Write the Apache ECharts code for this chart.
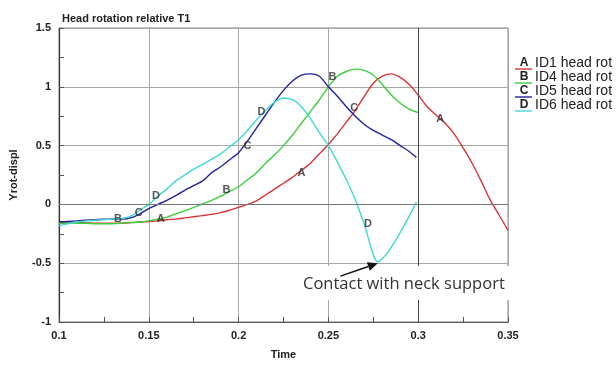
<!DOCTYPE html>
<html><head><meta charset="utf-8">
<script src="https://cdn.jsdelivr.net/npm/echarts@6/dist/echarts.min.js"></script>
<style>html,body{margin:0;padding:0;background:#fff}#c{width:616px;height:365px}</style>
</head><body><div id="c"></div>
<script>
// ---- data ----
const seriesNames = ['ID1 head rot', 'ID4 head rot', 'ID5 head rot', 'ID6 head rot'];
const seriesLetters = ['A', 'B', 'C', 'D'];
const xTicks = [0.1, 0.15, 0.2, 0.25, 0.3, 0.35];
const yTicks = [-1, -0.5, 0, 0.5, 1, 1.5];

const timeID1 = [0.100,0.105,0.110,0.115,0.120,0.125,0.130,0.135,0.140,0.145,0.150,0.155,0.160,0.165,0.170,0.175,0.180,0.185,0.190,0.195,0.200,0.205,0.210,0.215,0.220,0.225,0.230,0.235,0.240,0.245,0.250,0.255,0.260,0.265,0.270,0.275,0.280,0.285,0.290,0.295,0.300,0.305,0.310,0.315,0.320,0.325,0.330,0.335,0.340,0.345,0.350];
const valID1  = [-0.15,-0.15,-0.155,-0.155,-0.16,-0.16,-0.16,-0.16,-0.155,-0.15,-0.145,-0.14,-0.13,-0.125,-0.115,-0.105,-0.095,-0.085,-0.07,-0.05,-0.025,0.0,0.03,0.08,0.13,0.18,0.23,0.29,0.35,0.43,0.51,0.6,0.7,0.8,0.92,1.03,1.09,1.11,1.08,1.02,0.93,0.83,0.76,0.69,0.6,0.48,0.35,0.2,0.04,-0.09,-0.22];

const timeID4 = [0.100,0.105,0.110,0.115,0.120,0.125,0.130,0.135,0.140,0.145,0.150,0.155,0.160,0.165,0.170,0.175,0.180,0.185,0.190,0.195,0.200,0.205,0.210,0.215,0.220,0.225,0.230,0.235,0.240,0.245,0.250,0.255,0.260,0.265,0.270,0.275,0.280,0.285,0.290,0.295,0.300];
const valID4  = [-0.16,-0.16,-0.16,-0.16,-0.165,-0.165,-0.165,-0.16,-0.155,-0.15,-0.14,-0.125,-0.11,-0.08,-0.055,-0.025,0.005,0.035,0.07,0.11,0.15,0.21,0.27,0.35,0.42,0.5,0.59,0.69,0.79,0.89,1.0,1.09,1.13,1.15,1.14,1.1,1.02,0.93,0.86,0.81,0.78];

const timeID5 = [0.100,0.105,0.110,0.115,0.120,0.125,0.130,0.135,0.140,0.145,0.150,0.155,0.160,0.165,0.170,0.175,0.180,0.185,0.190,0.195,0.200,0.205,0.210,0.215,0.220,0.225,0.230,0.235,0.240,0.245,0.250,0.255,0.260,0.265,0.270,0.275,0.280,0.285,0.290,0.295,0.299];
const valID5  = [-0.15,-0.145,-0.14,-0.135,-0.13,-0.125,-0.125,-0.125,-0.115,-0.08,-0.035,0.0,0.035,0.075,0.12,0.16,0.2,0.27,0.32,0.38,0.44,0.54,0.65,0.76,0.87,0.97,1.05,1.1,1.11,1.09,1.0,0.92,0.83,0.75,0.68,0.63,0.59,0.55,0.5,0.45,0.4];

const timeID6 = [0.100,0.105,0.110,0.115,0.120,0.125,0.130,0.135,0.140,0.145,0.150,0.155,0.160,0.165,0.170,0.175,0.180,0.185,0.190,0.195,0.200,0.205,0.210,0.215,0.220,0.225,0.230,0.235,0.240,0.245,0.250,0.255,0.260,0.265,0.270,0.2775,0.283,0.290,0.295,0.299];
const valID6  = [-0.18,-0.165,-0.15,-0.14,-0.135,-0.13,-0.125,-0.12,-0.1,-0.05,0.0,0.07,0.13,0.2,0.25,0.3,0.34,0.385,0.43,0.49,0.55,0.63,0.72,0.8,0.87,0.905,0.89,0.83,0.73,0.61,0.5,0.36,0.21,0.04,-0.17,-0.49,-0.41,-0.24,-0.1,0.02];

// letter markers [time, value]
const lettersID1 = [[0.1567,-0.12],[0.235,0.27],[0.3122,0.73]];
const lettersID4 = [[0.1328,-0.12],[0.1933,0.12],[0.2522,1.08]];
const lettersID5 = [[0.1444,-0.07],[0.205,0.5],[0.2644,0.82]];
const lettersID6 = [[0.154,0.07],[0.2128,0.79],[0.272,-0.17]];

const annotationText = 'Contact with neck support';
const annotationPoint = [0.2775, -0.5];
const annotationTail = [0.2567, -0.61];

// ---- chart ----
const colors = ['#d83434', '#3ccf3c', '#22229c', '#3fd9d6'];
const times = [timeID1, timeID4, timeID5, timeID6];
const vals = [valID1, valID4, valID5, valID6];
const letters = [lettersID1, lettersID4, lettersID5, lettersID6];
const zip = (t, v) => t.map((x, i) => [x, v[i]]);

const chart = echarts.init(document.getElementById('c'), null, {renderer: 'canvas'});
const series = [];
for (let i = 0; i < 4; i++) {
  series.push({
    name: seriesNames[i], type: 'line', data: zip(times[i], vals[i]),
    showSymbol: false, smooth: 0.25, z: 3,
    lineStyle: {color: colors[i], width: 1.4}, itemStyle: {color: colors[i]}
  });
}
for (let i = 0; i < 4; i++) {
  series.push({
    type: 'scatter', data: letters[i], symbolSize: 0, z: 5, silent: true,
    label: {show: true, position: 'inside', formatter: seriesLetters[i],
      color: '#2a2a2a', fontFamily: 'Liberation Sans, Arial', fontSize: 11, fontWeight: 'bold'}
  });
}
// zero line and darker 0.3 line
series.push({
  type: 'line', data: [], silent: true,
  markLine: {symbol: 'none', silent: true, label: {show: false},
    lineStyle: {type: 'solid', width: 1},
    data: [{yAxis: 0, lineStyle: {color: '#777'}}, {xAxis: 0.3, lineStyle: {color: '#444'}}]}
});

const axisLabelStyle = {color: '#222', fontFamily: 'Liberation Sans, Arial', fontSize: 11, fontWeight: 'bold'};
chart.setOption({
  animation: false,
  title: {text: 'Head rotation relative T1', left: 57, top: 8,
    textStyle: {fontFamily: 'Liberation Sans, Arial', fontSize: 11, fontWeight: 'bold', color: '#222'}},
  grid: {left: 58, right: 108, top: 28, bottom: 42, show: true, borderColor: '#888', borderWidth: 1},
  xAxis: {type: 'value', min: 0.1, max: 0.35, interval: 0.05,
    name: 'Time', nameLocation: 'middle', nameGap: 27,
    nameTextStyle: {fontFamily: 'Liberation Sans, Arial', fontSize: 11, fontWeight: 'bold', color: '#222'},
    axisLine: {show: true, onZero: false, lineStyle: {color: '#555', width: 1.2}},
    axisTick: {show: true, inside: true, length: 5, lineStyle: {color: '#555'}},
    minorTick: {show: true, splitNumber: 2, length: 5, lineStyle: {color: '#555'}},
    axisLabel: Object.assign({margin: 8, formatter: v => String(+v.toFixed(2))}, axisLabelStyle),
    splitLine: {show: true, lineStyle: {color: '#a8a8a8', width: 1}}},
  yAxis: {type: 'value', min: -1, max: 1.5, interval: 0.5,
    name: 'Yrot-displ', nameLocation: 'middle', nameGap: 40, nameRotate: 90,
    nameTextStyle: {fontFamily: 'Liberation Sans, Arial', fontSize: 11, fontWeight: 'bold', color: '#222'},
    axisLine: {show: true, onZero: false, lineStyle: {color: '#333', width: 1.2}},
    axisTick: {show: true, inside: true, length: 5, lineStyle: {color: '#555'}},
    minorTick: {show: true, splitNumber: 2, length: 5, lineStyle: {color: '#555'}},
    axisLabel: Object.assign({margin: 8, formatter: v => String(+v.toFixed(2))}, axisLabelStyle),
    splitLine: {show: true, lineStyle: {color: '#a8a8a8', width: 1}}},
  series: series
});

// legend and annotation drawn as graphics
const legendEls = [];
for (let i = 0; i < 4; i++) {
  const y = 69 + i * 14;
  legendEls.push({type: 'line', shape: {x1: 515, y1: y, x2: 532, y2: y}, style: {stroke: colors[i], lineWidth: 1.4}});
  legendEls.push({type: 'text', x: 524, y: y - 0.5, style: {text: seriesLetters[i], textAlign: 'center', textVerticalAlign: 'bottom',
    font: 'bold 12px "Liberation Sans", Arial', fill: '#222'}});
  legendEls.push({type: 'text', x: 535, y: y - 6, style: {text: seriesNames[i], textAlign: 'left', textVerticalAlign: 'middle',
    font: '14px "Liberation Sans", Arial', fill: '#222'}});
}
const tip = chart.convertToPixel({gridIndex: 0}, annotationPoint);
const tail = chart.convertToPixel({gridIndex: 0}, annotationTail);
const ang = Math.atan2(tip[1] - tail[1], tip[0] - tail[0]);
const hl = 10, hw = 4.5;
const bx = tip[0] - hl * Math.cos(ang), by = tip[1] - hl * Math.sin(ang);
legendEls.push({type: 'rect', shape: {x: 292, y: 266, width: 220, height: 34}, style: {fill: '#fff'}, z: 10});
legendEls.push({type: 'text', x: 303, y: 284, z: 11, style: {text: annotationText, textVerticalAlign: 'middle',
  font: '16.5px "Open Sans", sans-serif', fill: '#333'}});
legendEls.push({type: 'line', z: 12, shape: {x1: tail[0], y1: tail[1], x2: bx, y2: by}, style: {stroke: '#111', lineWidth: 1.5}});
legendEls.push({type: 'polygon', z: 12, shape: {points: [
  [tip[0], tip[1]],
  [bx + hw * Math.sin(ang), by - hw * Math.cos(ang)],
  [bx - hw * Math.sin(ang), by + hw * Math.cos(ang)]]}, style: {fill: '#111'}});
chart.setOption({graphic: legendEls});
</script></body></html>
